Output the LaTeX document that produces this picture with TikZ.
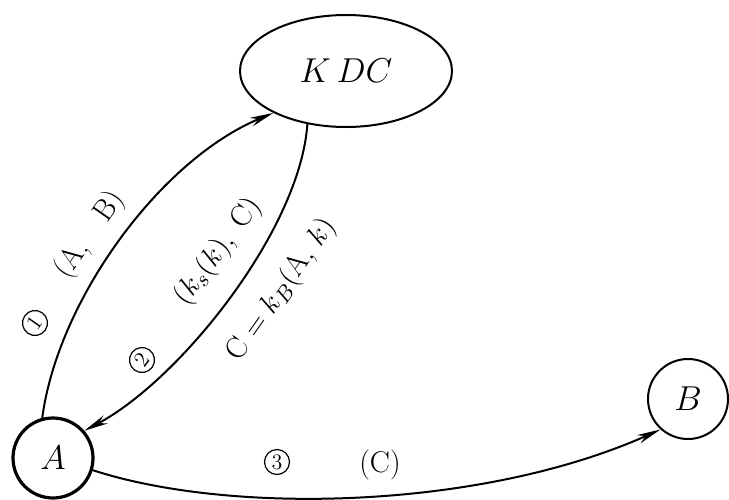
\documentclass[tikz,border=0pt]{standalone}
\usepackage{fontspec}
\usetikzlibrary{shapes.geometric,arrows.meta}
\tikzset{
  party/.style={circle,draw,line width=1pt,minimum size=40pt,inner sep=0pt,font=\fontsize{17}{20}\selectfont},
  msg/.style={-{Stealth[length=12pt,width=4.5pt]},line width=1pt},
  lbl/.style={font=\fontsize{15}{18}\selectfont,inner sep=0pt},
  stepno/.style={circle,draw,line width=0.6pt,minimum size=12.5pt,inner sep=0pt,font=\fontsize{11}{12}\selectfont},
}
\begin{document}
\begin{tikzpicture}[x=0.5pt,y=-0.5pt]
\useasboundingbox (0,0) rectangle (729,499);
\node[ellipse,draw,line width=1pt,minimum width=106pt,minimum height=56pt,font=\fontsize{16}{19}\selectfont] (kdc) at (346,71) {$K\,DC$};
\node[party,line width=1.6pt] (a) at (53,458) {$A$};
\node[party] (b) at (688,399) {$B$};
\draw[msg] (a.105) .. controls (58,300) and (160,160) .. (kdc.210);
\draw[msg] (kdc.234) .. controls (300,230) and (180,380) .. (a.41);
\draw[msg] (a.-17) .. controls (230,515) and (480,510) .. (b.228);
% labels along the messages
\node[stepno,rotate=55] (n1) at (35,323) {1};
\node[lbl,rotate=55] (ab) at (90,235) {(A,\quad B)};
\node[stepno,rotate=53] (n2) at (142,360) {2};
\node[lbl,rotate=53] (ksk) at (218,252) {$(k_s(k),\;\mathrm{C})$};
\node[lbl,rotate=55] (ckb) at (282,290) {$\mathrm{C}=k_B(\mathrm{A},\,k)$};
\node[stepno] (n3) at (277,462) {3};
\node[lbl] (cc) at (380,465) {(C)};
\end{tikzpicture}
\end{document}
